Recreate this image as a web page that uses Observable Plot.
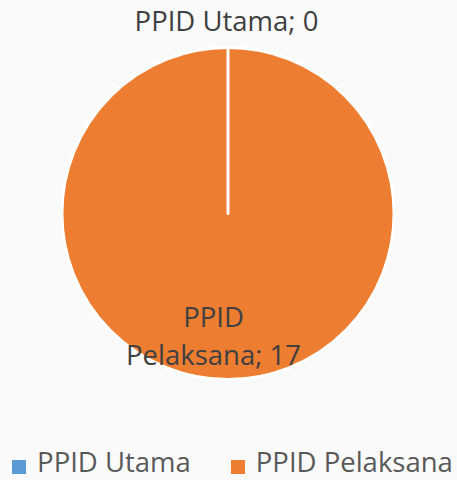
<!DOCTYPE html>
<html><head><meta charset="utf-8">
<script src="https://cdn.jsdelivr.net/npm/d3@7"></script>
<script src="https://cdn.jsdelivr.net/npm/@observablehq/plot@0.6"></script>
<style>
html,body{margin:0;padding:0;background:#fafafa;}
#chart{width:457px;height:480px;position:relative;font-family:"Open Sans",sans-serif;}
#legend{position:absolute;left:0;top:447px;width:457px;height:30px;display:flex;align-items:center;justify-content:center;padding-left:8px;box-sizing:border-box;color:#595959;font-size:27.5px;line-height:28px;}
#legend .item{display:flex;align-items:center;height:28px;}
#legend .sw{width:14px;height:14px;margin-right:11px;margin-top:10px;}
#legend .item + .item{margin-left:40px;}
</style></head><body><div id="chart"></div>
<script>
const categories = ["PPID Utama", "PPID Pelaksana"];
const values = [0, 17];
const colors = ["#5B9BD5", "#ED7D31"];

const data = categories.map((c, i) => ({category: c, value: values[i]}));
const arcs = d3.pie().sort(null).value(d => d.value)(data);

// label placement: zero slice outside, others inside
const labels = arcs.map(a => {
  const mid = (a.startAngle + a.endAngle) / 2;
  const outside = a.value === 0;
  const rr = outside ? 1.155 : 0.72;
  return {
    x: rr * Math.sin(mid),
    y: rr * Math.cos(mid),
    text: outside ? `${a.data.category}; ${a.value}` : `${a.data.category.replace(" ", "\n")}; ${a.value}`,
    outside
  };
});

function pieMark(index, scales) {
  const cx = scales.x(0), cy = scales.y(0), r = scales.x(1) - scales.x(0);
  const arc = d3.arc().innerRadius(0).outerRadius(r);
  const g = d3.create("svg:g").attr("transform", `translate(${cx},${cy})`);
  g.selectAll("path.f").data(arcs).join("path").attr("class", "f")
    .attr("d", arc).attr("fill", d => scales.color(d.data.category));
  g.selectAll("path.s").data(arcs).join("path").attr("class", "s")
    .attr("d", arc).attr("fill", "none").attr("stroke", "white")
    .attr("stroke-width", 3).attr("stroke-linejoin", "round");
  return g.node();
}

const plot = Plot.plot({
  width: 457,
  height: 440,
  margin: 0,
  style: {background: "#fafafa", fontFamily: "Open Sans, sans-serif"},
  x: {domain: [-1, 1], range: [62, 394], axis: null},
  y: {domain: [-1, 1], range: [379.5, 47.5], axis: null},
  color: {domain: categories, range: colors},
  marks: [
    pieMark,
    Plot.text(labels.filter(d => d.outside), {x: "x", y: "y", text: "text", fontSize: 27.5, fill: "#404040", dx: -2}),
    Plot.text(labels.filter(d => !d.outside), {x: "x", y: "y", text: "text", fontSize: 27.5, fill: "#404040", lineHeight: 1.4, dx: -15})
  ]
});

const chart = document.getElementById("chart");
chart.appendChild(plot);
const legend = document.createElement("div");
legend.id = "legend";
categories.forEach((c, i) => {
  const item = document.createElement("div");
  item.className = "item";
  const sw = document.createElement("span");
  sw.className = "sw";
  sw.style.background = colors[i];
  const t = document.createElement("span");
  t.textContent = c;
  item.append(sw, t);
  legend.appendChild(item);
});
chart.appendChild(legend);
</script>
</body></html>
